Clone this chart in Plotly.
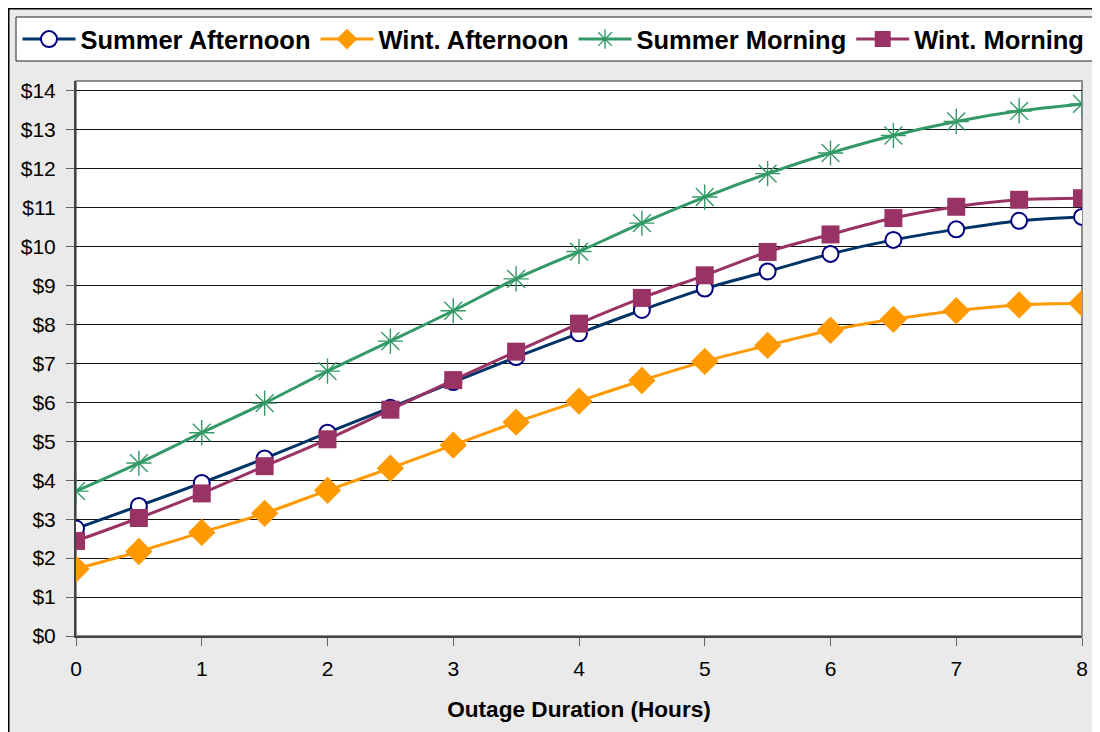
import plotly.graph_objects as go

hours = [0, 0.5, 1, 1.5, 2, 2.5, 3, 3.5, 4, 4.5, 5, 5.5, 6, 6.5, 7, 7.5, 8]

summer_afternoon = [2.76, 3.34, 3.93, 4.56, 5.22, 5.86, 6.52, 7.16, 7.77, 8.37, 8.92, 9.36, 9.81, 10.17, 10.44, 10.66, 10.76]
wint_afternoon = [1.72, 2.17, 2.66, 3.15, 3.74, 4.31, 4.90, 5.49, 6.03, 6.56, 7.05, 7.46, 7.85, 8.13, 8.35, 8.50, 8.54]
summer_morning = [3.72, 4.44, 5.22, 5.98, 6.80, 7.57, 8.35, 9.17, 9.87, 10.60, 11.27, 11.87, 12.40, 12.85, 13.21, 13.48, 13.66]
wint_morning = [2.44, 3.03, 3.66, 4.36, 5.05, 5.81, 6.57, 7.30, 8.02, 8.68, 9.26, 9.86, 10.31, 10.73, 11.02, 11.20, 11.24]

y_ticks = list(range(0, 15))
y_tick_labels = ["$" + str(v) for v in y_ticks]
x_ticks = list(range(0, 9))

# page has an 8px body margin; work in page pixels and convert
OFF = 8
W, H = 1100 - OFF, 732 - OFF
L, R, T, B = 76, 1082, 81, 636  # plot area bounds in page pixels


def px(xp):
    return (xp - L) / (R - L)


def py(yp):
    return (B - yp) / (B - T)


FONT = "Liberation Sans, Arial, sans-serif"

fig = go.Figure()

fig.add_trace(go.Scatter(
    x=hours, y=summer_afternoon, name="Summer Afternoon", mode="lines+markers",
    line=dict(color="#003366", width=3, shape="spline", smoothing=0.8),
    marker=dict(symbol="circle", size=16, color="white", line=dict(color="#000080", width=2)),
))
fig.add_trace(go.Scatter(
    x=hours, y=wint_afternoon, name="Wint. Afternoon", mode="lines+markers",
    line=dict(color="#FF9900", width=3, shape="spline", smoothing=0.8),
    marker=dict(symbol="diamond", size=21, color="#FF9900", line=dict(color="#FF9900", width=0)),
))
fig.add_trace(go.Scatter(
    x=hours, y=summer_morning, name="Summer Morning", mode="lines+markers",
    line=dict(color="#339966", width=3, shape="spline", smoothing=0.8),
    marker=dict(symbol="asterisk-open", size=21, color="#339966", line=dict(color="#339966", width=1.4)),
))
fig.add_trace(go.Scatter(
    x=hours, y=wint_morning, name="Wint. Morning", mode="lines+markers",
    line=dict(color="#993366", width=3, shape="spline", smoothing=0.8),
    marker=dict(symbol="square", size=18, color="#993366", line=dict(color="#993366", width=0)),
))

shapes = [
    # outer chart area
    dict(type="rect", xref="paper", yref="paper", x0=px(8.75), x1=px(1130), y0=py(8.75), y1=py(780),
         fillcolor="#EAEAEA", line=dict(color="black", width=1.5), layer="below"),
    # plot area
    dict(type="rect", xref="paper", yref="paper", x0=0, x1=1, y0=0, y1=1,
         fillcolor="white", line=dict(color="#8C8C8C", width=2), layer="below"),
    # legend box
    dict(type="rect", xref="paper", yref="paper", x0=px(16), x1=px(1099), y0=py(61), y1=py(17),
         fillcolor="white", line=dict(color="#222222", width=1), layer="below"),
]

fig.update_layout(
    width=W, height=H,
    margin=dict(l=L - OFF, r=(1100 - OFF) - (R - OFF), t=T - OFF, b=(732 - OFF) - (B - OFF),
                pad=0, autoexpand=False),
    paper_bgcolor="white",
    plot_bgcolor="rgba(0,0,0,0)",
    font=dict(family=FONT, color="black", size=21),
    shapes=shapes,
    showlegend=True,
    legend=dict(
        orientation="h", x=px(17.5), xanchor="left", y=py(39.5), yanchor="middle",
        bgcolor="rgba(0,0,0,0)", borderwidth=0,
        font=dict(family=FONT, size=25.5, color="black", weight="bold"),
        itemwidth=53, tracegroupgap=0,
    ),
    xaxis=dict(
        range=[0, 8], tickvals=x_ticks, ticktext=[str(v) for v in x_ticks],
        showgrid=False, zeroline=False,
        showline=True, linecolor="#444444", linewidth=2,
        ticks="outside", ticklen=8, tickcolor="#666666", tickwidth=1,
        tickfont=dict(family=FONT, size=21, color="black"),
        ticklabelstandoff=5,
        title=dict(text="Outage Duration (Hours)", font=dict(family=FONT, size=22.6, color="black", weight="bold"), standoff=22),
    ),
    yaxis=dict(
        range=[0, (B - T) / ((B - 90.7) / 14)], tickvals=y_ticks, ticktext=y_tick_labels,
        showgrid=True, gridcolor="#111111", gridwidth=1,
        zeroline=False, showline=True, linecolor="#444444", linewidth=2,
        ticks="outside", ticklen=8, tickcolor="#666666", tickwidth=1,
        tickfont=dict(family=FONT, size=21, color="black"),
        ticklabelstandoff=6,
    ),
)

fig.write_html("out.html")
